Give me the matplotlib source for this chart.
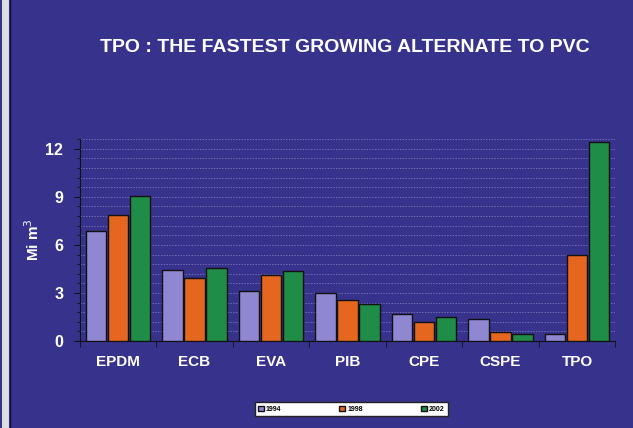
import matplotlib.pyplot as plt
import numpy as np
from matplotlib.ticker import MultipleLocator

plt.rcParams["font.family"] = ["Liberation Sans", "DejaVu Sans"]

categories = ["EPDM", "ECB", "EVA", "PIB", "CPE", "CSPE", "TPO"]
years = ["1994", "1998", "2002"]
values_1994 = [6.85, 4.45, 3.1, 3.0, 1.7, 1.4, 0.45]
values_1998 = [7.85, 3.95, 4.1, 2.55, 1.2, 0.55, 5.4]
values_2002 = [9.05, 4.55, 4.4, 2.3, 1.5, 0.45, 12.45]

bg = "#37338c"
colors = ["#8f87d2", "#e4661f", "#1f8c47"]

fig = plt.figure(figsize=(6.33, 4.28), dpi=100, facecolor=bg)
ax = fig.add_axes([0.126, 0.203, 0.846, 0.472], facecolor=bg)

x = np.arange(len(categories))
w = 0.288
for i, (vals, c, lab) in enumerate(zip([values_1994, values_1998, values_2002], colors, years)):
    ax.bar(x + (i - 1) * w, vals, width=0.265, color=c, edgecolor="#111111",
           linewidth=1.0, label=lab, zorder=3)

ax.set_xlim(-0.5, len(categories) - 0.5)
ax.set_ylim(0, 12.6)
ax.yaxis.set_major_locator(MultipleLocator(3))
ax.yaxis.set_minor_locator(MultipleLocator(0.6))
ax.grid(True, axis="y", which="both", color="#aaa6e0", linestyle=(0, (2, 2)),
        linewidth=0.5, alpha=0.7, zorder=0)

ax.set_xticks(x)
ax.set_xticklabels(categories, color="white", fontsize=11, fontweight="bold")
ax.set_xticks(np.arange(-0.5, len(categories)), minor=True)
ax.tick_params(axis="x", which="major", length=0, pad=10)
ax.tick_params(axis="x", which="minor", length=4, color="#111111")
ax.tick_params(axis="y", which="major", labelcolor="white", labelsize=11.5,
               length=4, color="#111111", pad=8)
ax.tick_params(axis="y", which="minor", length=2, color="#111111")
for lbl in ax.get_yticklabels():
    lbl.set_fontweight("bold")

for side in ["top", "right"]:
    ax.spines[side].set_visible(False)
ax.spines["left"].set_color("#111111")
ax.spines["bottom"].set_color("#111111")

ax.set_ylabel("Mi m$^3$", color="white", fontsize=11, fontweight="bold")
ax.yaxis.set_label_coords(-0.07, 0.5)

fig.text(0.545, 0.89, "TPO : THE FASTEST GROWING ALTERNATE TO PVC", color="white",
         fontsize=14, fontweight="bold", ha="center", va="center")

leg = fig.legend(loc="center", bbox_to_anchor=(0.555, 0.044), ncol=3, fontsize=5,
                 frameon=True, fancybox=False, framealpha=1, handlelength=0.8,
                 handleheight=0.8, columnspacing=8.4, handletextpad=0.3, borderpad=0.5)
leg.get_frame().set_facecolor("white")
leg.get_frame().set_edgecolor("#222222")
for t in leg.get_texts():
    t.set_fontweight("bold")
for h in leg.legend_handles:
    h.set_edgecolor("#111111")

fig.add_artist(plt.Line2D([0.008, 0.008], [0, 1], color="#dddddd", linewidth=5))
fig.add_artist(plt.Line2D([0.016, 0.016], [0, 1], color="#111133", linewidth=1))

fig.savefig("out.png", dpi=100, facecolor=bg)
